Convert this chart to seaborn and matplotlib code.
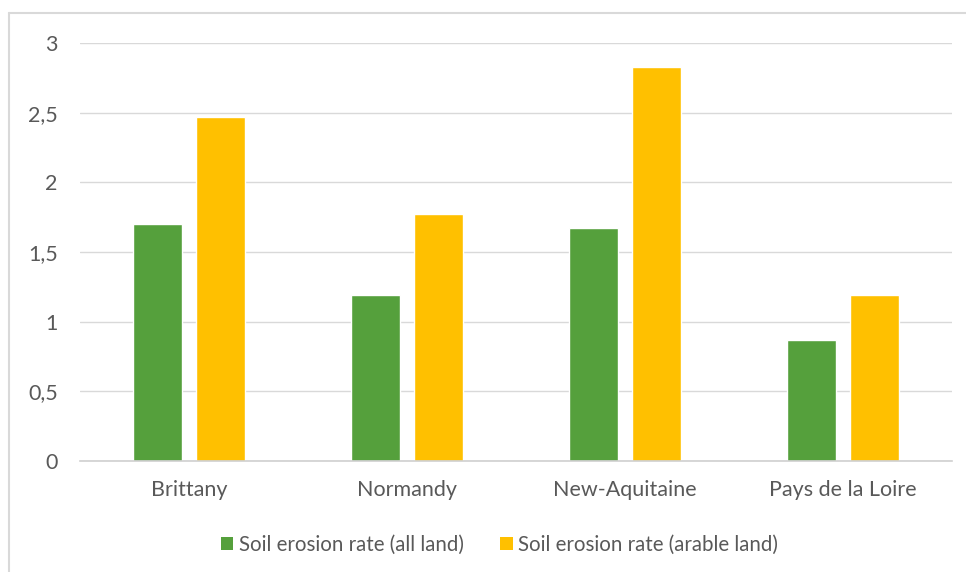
import matplotlib
matplotlib.use("Agg")
import matplotlib.pyplot as plt
import seaborn as sns
import pandas as pd
from matplotlib.lines import Line2D
from matplotlib.patches import Patch

regions = ["Brittany", "Normandy", "New-Aquitaine", "Pays de la Loire"]
all_land = [1.70, 1.19, 1.67, 0.87]
arable_land = [2.47, 1.77, 2.83, 1.19]
series = ["Soil erosion rate (all land)", "Soil erosion rate (arable land)"]
yticks = [0, 0.5, 1, 1.5, 2, 2.5, 3]
ytick_labels = ["0", "0,5", "1", "1,5", "2", "2,5", "3"]
colors = ["#55A03C", "#FFC000"]

df = pd.DataFrame({
    "region": regions * 2,
    "series": [series[0]] * 4 + [series[1]] * 4,
    "value": all_land + arable_land,
})

sns.set_style("white")
plt.rcParams["font.family"] = ["Lato", "DejaVu Sans"]
txt = "#595959"

fig = plt.figure(figsize=(9.66, 5.72), dpi=100)
ax = fig.add_axes([0.0828, 0.194, 0.9027, 0.7308])
sns.barplot(data=df, x="region", y="value", hue="series", palette=colors,
            width=0.57, gap=0.21, ax=ax, legend=False, saturation=1, errorbar=None)

ax.set_ylim(0, 3)
ax.set_xlim(-0.5, 3.5)
ax.set_yticks(yticks)
ax.set_yticklabels(ytick_labels)
ax.set_xlabel("")
ax.set_ylabel("")
ax.yaxis.grid(True, color="#D9D9D9", linewidth=1)
ax.set_axisbelow(True)
for s in ["left", "right", "top"]:
    ax.spines[s].set_visible(False)
ax.spines["bottom"].set_color("#D0D0D0")
ax.spines["bottom"].set_linewidth(1.2)
ax.tick_params(axis="both", length=0, labelsize=15.5, colors=txt)
ax.tick_params(axis="y", pad=16)
ax.tick_params(axis="x", pad=14)

handles = [Patch(facecolor=c, edgecolor="none") for c in colors]
fig.legend(handles, series, loc="center", bbox_to_anchor=(0.517, 0.047), ncol=2,
           frameon=False, fontsize=14.8, labelcolor=txt, handlelength=0.6,
           handleheight=0.6, handletextpad=0.25, columnspacing=1.8)

# chart-area border (left and top visible)
fig.add_artist(Line2D([0.0098, 0.0098], [0, 0.9773], color="#D9D9D9", lw=1.5, transform=fig.transFigure))
fig.add_artist(Line2D([0.0098, 1.0], [0.9773, 0.9773], color="#D9D9D9", lw=1.5, transform=fig.transFigure))

fig.savefig("out.png", dpi=100)
